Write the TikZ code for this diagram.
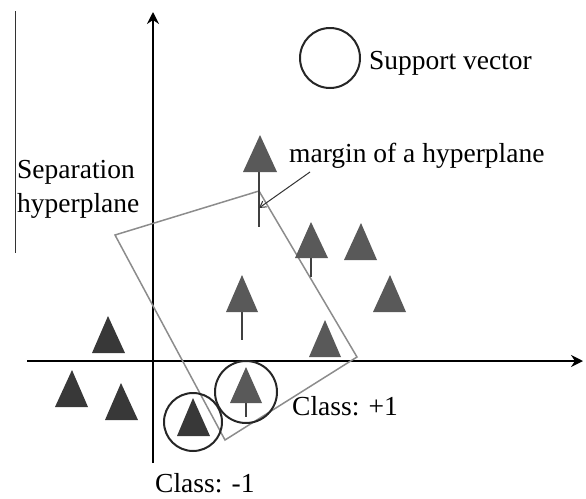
\documentclass[tikz,border=0pt]{standalone}
\usepackage{fontspec}
\newfontfamily\timesfont{Liberation Serif}
\usetikzlibrary{arrows.meta}
\begin{document}
\begin{tikzpicture}[x=1pt,y=-1pt,
  lbl/.style={font=\timesfont\fontsize{27.5}{34}\selectfont, inner sep=0pt},
  plustri/.style={fill=black!65, draw=none},
  minustri/.style={fill=black!78, draw=none},
  stem/.style={draw=black!75, line width=1.4pt},
  sv/.style={draw=black!85, line width=2pt},
  axis/.style={line width=2.4pt, -{Stealth[length=12pt,width=12pt,inset=4pt]}}]
\useasboundingbox (0,0) rectangle (586,498);
% left thin line
\coordinate (lt) at (15,11);
\coordinate (lb) at (15,253);
\draw[black!80, line width=1pt] (lt) -- (lb);
% axes
\coordinate (ya) at (153,463);
\coordinate (yb) at (153,12);
\coordinate (xa) at (27,361);
\coordinate (xb) at (583,361);
\draw[axis] (ya) -- (yb);
\draw[axis] (xa) -- (xb);
% margin quadrilateral
\coordinate (q1) at (115,235);
\coordinate (q2) at (259,191);
\coordinate (q3) at (357,357);
\coordinate (q4) at (225,440);
\draw[black!45, line width=1.5pt] (q1) -- (q2) -- (q3) -- (q4) -- cycle;
% stems
\coordinate (s1a) at (259,172); \coordinate (s1b) at (259,227);
\coordinate (s2a) at (311,258); \coordinate (s2b) at (311,277);
\coordinate (s5a) at (242,312); \coordinate (s5b) at (242,340);
\coordinate (s7a) at (246,403); \coordinate (s7b) at (246,417);
\draw[stem] (s1a) -- (s1b);
\draw[stem] (s2a) -- (s2b);
\draw[stem] (s5a) -- (s5b);
\draw[stem] (s7a) -- (s7b);
% class +1 triangles
\fill[plustri] (260,135) -- (277,172) -- (243,172) -- cycle;
\fill[plustri] (311,222) -- (328,258) -- (295,258) -- cycle;
\fill[plustri] (361,223) -- (377,260) -- (344,260) -- cycle;
\fill[plustri] (390,275) -- (406,312) -- (373,312) -- cycle;
\fill[plustri] (242,275) -- (258,312) -- (226,312) -- cycle;
\fill[plustri] (325,320) -- (341,357) -- (309,357) -- cycle;
\fill[plustri] (246,367) -- (262,403) -- (230,403) -- cycle;
% class -1 triangles
\fill[minustri] (108,316) -- (125,353) -- (92,353) -- cycle;
\fill[minustri] (72,370) -- (88,407) -- (55,407) -- cycle;
\fill[minustri] (121,383) -- (138,420) -- (105,420) -- cycle;
\fill[minustri] (193,398) -- (210,436) -- (177,436) -- cycle;
% support vector circles
\node[sv, circle, minimum size=62pt, inner sep=0pt] (c1) at (246,392) {};
\node[sv, circle, minimum size=58pt, inner sep=0pt] (c2) at (193,422) {};
\node[sv, circle, minimum size=60pt, inner sep=0pt] (leg) at (330,58) {};
% labels
\node[lbl, anchor=base west] (svt) at (369,69) {Support vector};
\node[lbl, anchor=base west] (mg) at (289,162) {margin of a hyperplane};
\node[lbl, anchor=base west] (sep1) at (17,178) {Separation};
\node[lbl, anchor=base west] (sep2) at (17,212) {hyperplane};
\node[lbl, anchor=base west] (cp) at (292,415) {Class: +1};
\node[lbl, anchor=base west] (cn) at (155,492) {Class: -1};
% margin pointer
\coordinate (ma) at (310,172);
\coordinate (mb) at (259,208);
\draw[black!80, line width=1pt, -{Straight Barb[length=6pt,width=7pt]}] (ma) -- (mb);
\end{tikzpicture}
\end{document}
